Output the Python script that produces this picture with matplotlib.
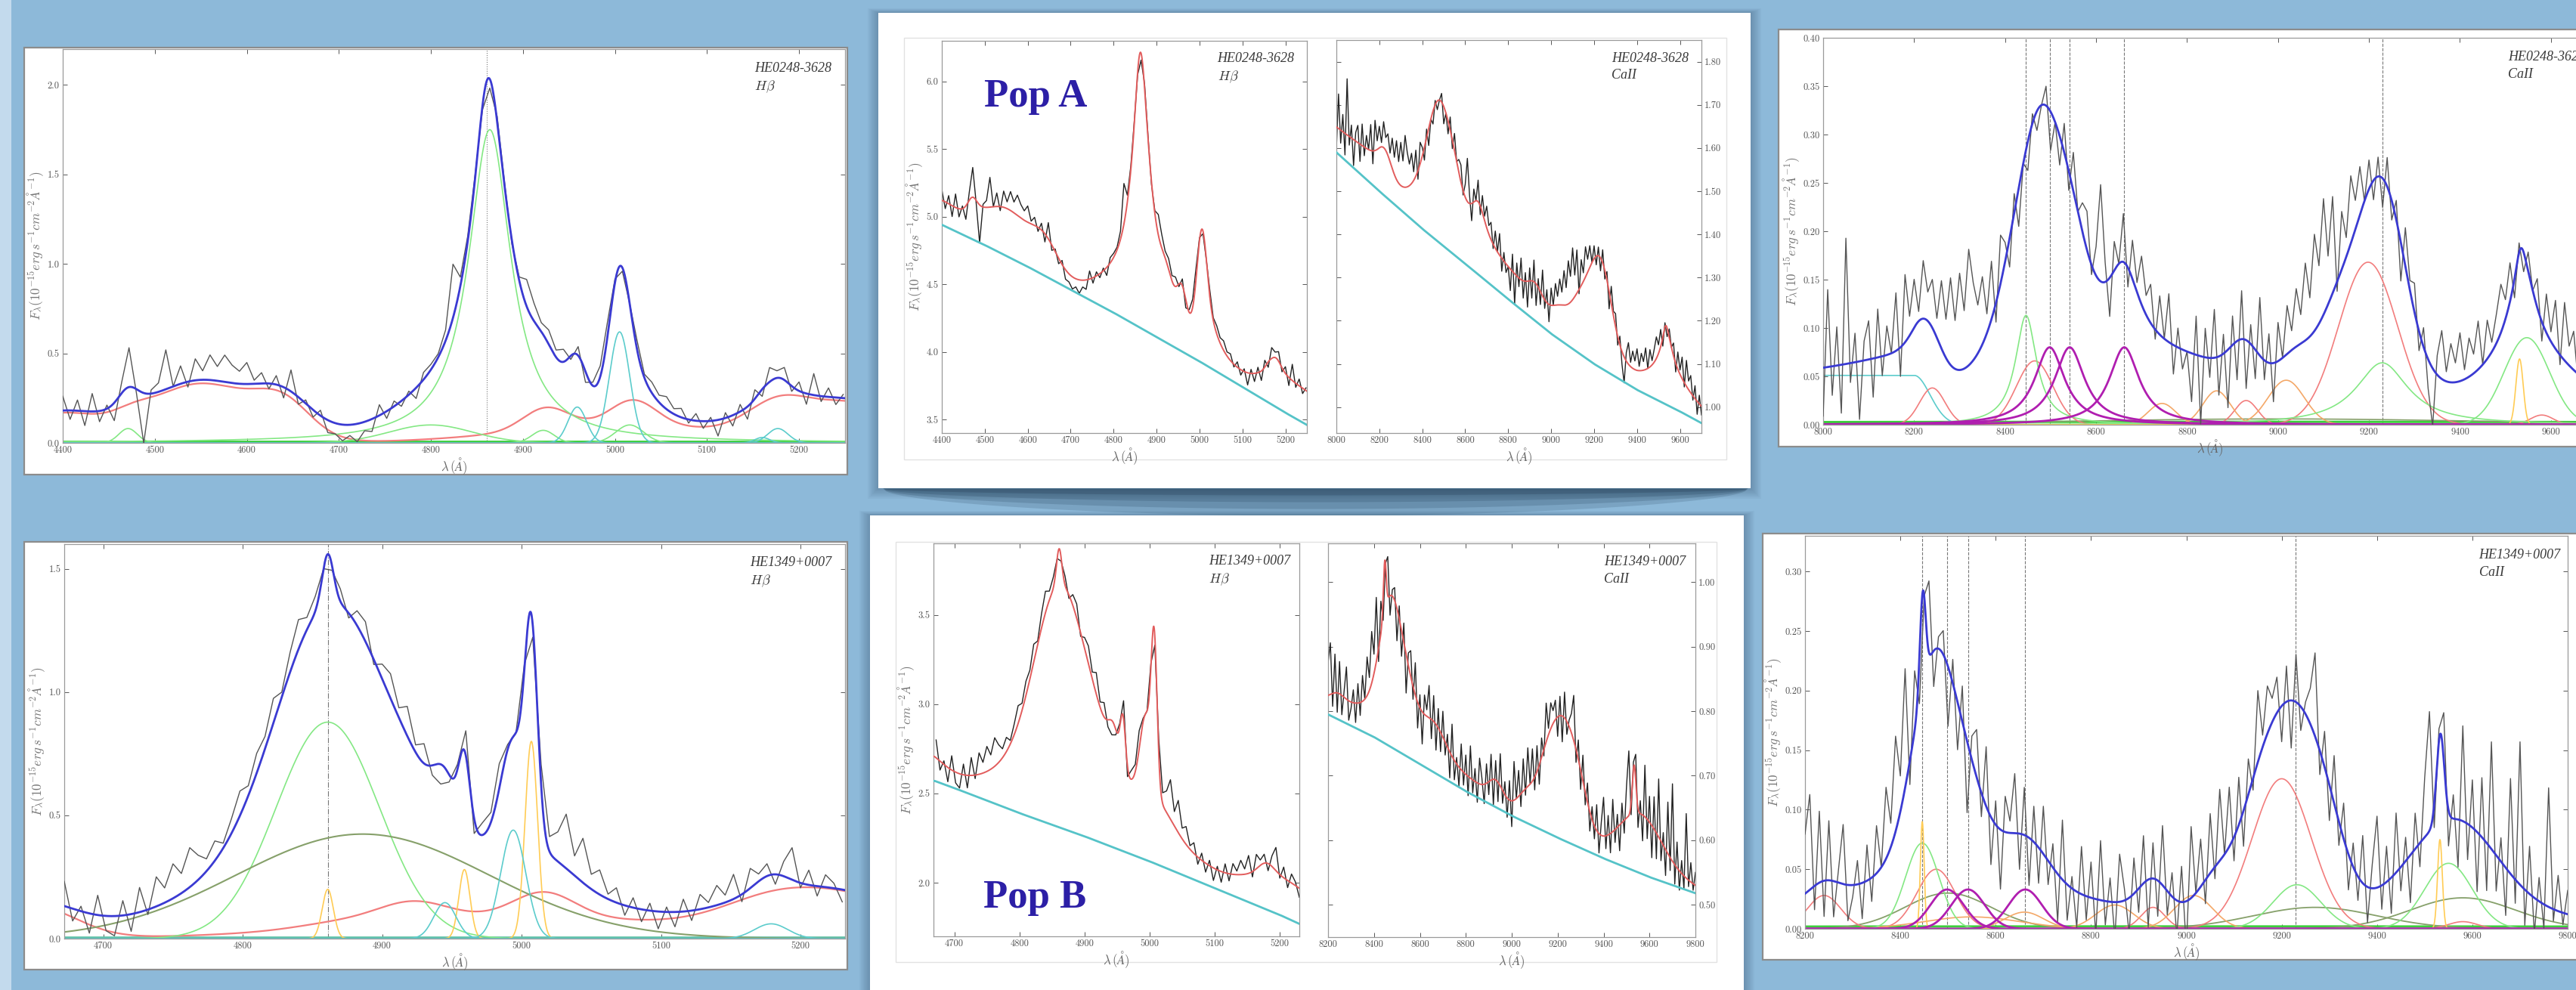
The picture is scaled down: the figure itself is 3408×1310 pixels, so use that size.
import numpy as np
import matplotlib
matplotlib.use('Agg')
import matplotlib.pyplot as plt
from matplotlib.patches import Rectangle
from matplotlib.ticker import FormatStrFormatter

plt.rcParams['font.family'] = 'serif'
plt.rcParams['font.serif'] = ['cmr10', 'DejaVu Serif']
plt.rcParams['mathtext.fontset'] = 'cm'
plt.rcParams['axes.formatter.use_mathtext'] = True
plt.rcParams['axes.unicode_minus'] = False

W, H = 3408, 1310

# line components are (profile, centre [A], height, width [A]);
# 'g' gaussian sigma, 'l' lorentzian half width, 'e' flat shelf blueward of centre

# ---------------- HE0248-3628, Hbeta ----------------
hb_a_xticks = list(range(4400, 5201, 100))
hb_a_yticks = [0.0, 0.5, 1.0, 1.5, 2.0]
hb_a_feii = [('g', 4395, 0.155, 45), ('g', 4475, 0.04, 20), ('g', 4550, 0.33, 60),
             ('g', 4640, 0.17, 30), ('g', 4925, 0.12, 25), ('g', 5010, 0.10, 120),
             ('g', 5020, 0.14, 25), ('g', 5180, 0.20, 35), ('g', 5260, 0.20, 40)]
hb_a_green = [('l', 4864, 1.75, 28), ('g', 4800, 0.10, 45), ('g', 4471, 0.08, 10),
              ('g', 4922, 0.07, 12), ('g', 5016, 0.10, 15)]
hb_a_floor = [('g', 4800, 0.006, 2000)]
hb_a_cyan = [('g', 4959, 0.20, 10), ('g', 5005, 0.62, 11), ('g', 5160, 0.03, 8),
             ('g', 5177, 0.08, 11)]
hb_a_narrow = [('g', 4861, 0.20, 8)]
hb_a_total = hb_a_feii + hb_a_green + hb_a_floor + hb_a_cyan + hb_a_narrow
hb_a_marks = [4861]
hb_a_start, hb_a_step = 4400, 8
hb_a_resid = [0.08, -0.05, 0.06, -0.08, 0.10, -0.06, 0.02, -0.10, 0.06, 0.22,
              -0.02, -0.28, 0.02, 0.05, 0.22, 0.00, 0.10, -0.03, 0.12, 0.05,
              0.14, 0.08, 0.15, 0.10, 0.07, 0.12, 0.02, 0.06, -0.03, 0.05,
              -0.06, 0.12, -0.04, 0.02, -0.04, 0.03, -0.07, -0.06, -0.09, -0.06,
              -0.10, -0.05, -0.07, 0.06, -0.04, 0.03, -0.03, 0.02, -0.06, 0.04,
              0.03, 0.02, 0.06, 0.30, 0.05, 0.03, 0.02, -0.02, -0.05, 0.03,
              0.02, -0.02, 0.02, 0.15, 0.10, 0.05, 0.08, 0.04, 0.07, -0.02,
              0.05, -0.06, 0.02, 0.06, 0.08, 0.02, -0.02, 0.00, 0.05, 0.02,
              0.06, 0.04, 0.07, 0.03, 0.05, -0.02, 0.04, -0.04, 0.02, -0.09,
              0.03, -0.06, 0.04, -0.07, 0.05, -0.04, 0.08, 0.04, 0.07, -0.03,
              0.05, -0.06, 0.12, -0.03, 0.05, -0.04, 0.02]
hb_a_cont_lam = [4400, 4500, 4600, 4700, 4800, 4900, 5000, 5100, 5200, 5250]
hb_a_cont = [4.94, 4.79, 4.63, 4.46, 4.29, 4.11, 3.93, 3.74, 3.55, 3.46]

# ---------------- HE1349+0007, Hbeta ----------------
hb_b_xticks = list(range(4700, 5201, 100))
hb_b_yticks = [0.0, 0.5, 1.0, 1.5]
hb_b_feii = [('g', 4650, 0.13, 30), ('g', 4870, 0.02, 30), ('g', 4922, 0.075, 25),
             ('g', 5000, 0.09, 120), ('g', 5016, 0.10, 22), ('g', 5185, 0.14, 40),
             ('g', 5250, 0.12, 40)]
hb_b_green = [('g', 4861, 0.878, 37)]
hb_b_olive = [('g', 4886, 0.424, 91)]
hb_b_yellow = [('g', 4861, 0.20, 4), ('g', 4959, 0.28, 4), ('g', 5007, 0.80, 4.5)]
hb_b_cyan = [('g', 4945, 0.146, 8), ('g', 4994, 0.44, 9), ('g', 5179, 0.06, 12)]
hb_b_floor = [('g', 4950, 0.004, 2000)]
hb_b_total = hb_b_feii + hb_b_green + hb_b_olive + hb_b_yellow + hb_b_cyan + hb_b_floor
hb_b_marks = [4861]
hb_b_start, hb_b_step = 4672, 6
hb_b_resid = [0.10, -0.05, 0.02, -0.08, 0.08, -0.06, -0.08, 0.06, -0.07, 0.10,
              -0.02, 0.12, 0.06, 0.14, 0.08, 0.16, 0.10, 0.05, 0.08, 0.02,
              0.06, 0.10, 0.04, 0.08, 0.05, 0.10, 0.02, 0.08, 0.12, 0.05,
              0.06, 0.00, -0.02, 0.05, -0.02, 0.06, 0.08, -0.02, 0.06, 0.10,
              0.04, 0.12, 0.03, 0.08, -0.04, -0.08, -0.03, 0.02, 0.10, -0.06,
              0.05, 0.04, 0.10, 0.02, 0.00, 0.02, -0.05, 0.08, 0.06, 0.12,
              0.22, 0.08, 0.18, 0.06, 0.10, 0.02, 0.06, -0.04, 0.04, -0.05,
              0.03, -0.07, 0.02, -0.06, 0.05, -0.04, 0.06, 0.02, 0.08, 0.03,
              0.10, -0.03, 0.08, 0.03, 0.05, -0.04, 0.06, 0.13, -0.02, 0.06,
              -0.04, 0.05, 0.02, -0.05]
hb_b_cont_lam = [4670, 4700, 4800, 4900, 5000, 5100, 5200, 5230]
hb_b_cont = [2.57, 2.53, 2.39, 2.26, 2.12, 1.97, 1.82, 1.77]

# ---------------- HE0248-3628, CaII ----------------
ca_a_xticks = list(range(8000, 9601, 200))
ca_a_yticks = [0.0, 0.05, 0.10, 0.15, 0.20, 0.25, 0.30, 0.35, 0.40]
ca_a_cyan = [('e', 8200, 0.051, 35)]
ca_a_red = [('g', 8240, 0.038, 28), ('g', 8465, 0.066, 40), ('g', 8930, 0.025, 25),
            ('g', 9198, 0.168, 65), ('g', 9580, 0.010, 25)]
ca_a_orange = [('g', 8745, 0.022, 30), ('g', 8865, 0.035, 30), ('g', 9018, 0.046, 40)]
ca_a_green = [('l', 8446, 0.113, 28), ('l', 9229, 0.064, 70), ('g', 9547, 0.09, 50)]
ca_a_magenta = [('l', 8498, 0.08, 40), ('l', 8542, 0.08, 40), ('l', 8662, 0.08, 40)]
ca_a_yellow = [('g', 9531, 0.068, 8)]
ca_a_olive = [('g', 9000, 0.006, 450)]
ca_a_floor = [('g', 8850, 0.003, 2000)]
ca_a_total = [('e', 8200, 0.045, 40), ('g', 8230, 0.035, 30), ('g', 8650, 0.07, 350),
              ('g', 8475, 0.20, 60), ('l', 8475, 0.05, 60), ('g', 8545, 0.05, 40),
              ('l', 8660, 0.09, 45), ('g', 8925, 0.03, 30), ('g', 9040, 0.025, 35),
              ('g', 9120, 0.04, 40), ('g', 9215, 0.15, 60), ('l', 9205, 0.04, 80),
              ('g', 9245, 0.05, 40), ('l', 9537, 0.10, 35), ('g', 9533, 0.015, 8),
              ('g', 9550, 0.035, 80), ('g', 9600, 0.03, 200)]
ca_marks = [8446, 8498, 8542, 8662, 9229]
ca_a_start, ca_a_step = 8000, 10
ca_a_resid = [-0.05, 0.08, -0.03, 0.04, -0.05, 0.13, -0.02, 0.03, -0.06, 0.02,
              0.04, -0.04, 0.05, -0.02, 0.03, 0.00, 0.06, -0.03, 0.07, 0.02,
              0.05, 0.01, 0.06, 0.03, 0.05, 0.02, 0.07, 0.04, 0.09, 0.05,
              0.10, 0.06, 0.12, 0.08, 0.05, 0.07, 0.02, 0.06, -0.02, 0.05,
              0.02, -0.03, 0.02, -0.04, 0.00, -0.03, 0.01, -0.02, 0.00, 0.02,
              -0.04, 0.00, -0.03, 0.03, -0.02, 0.04, 0.00, 0.03, 0.04, -0.01,
              0.03, 0.10, 0.02, -0.04, 0.03, 0.00, 0.05, -0.02, 0.04, 0.01,
              0.05, 0.02, 0.04, -0.01, 0.04, 0.00, 0.05, -0.03, 0.02, -0.02,
              0.00, -0.05, 0.04, -0.07, 0.03, -0.02, 0.05, -0.04, 0.02, -0.06,
              0.03, -0.04, 0.05, -0.05, 0.02, -0.03, 0.06, -0.02, 0.03, -0.04,
              0.04, 0.00, 0.05, 0.02, 0.06, 0.03, 0.08, 0.04, 0.10, 0.06,
              0.12, 0.05, 0.10, -0.01, 0.06, 0.02, 0.07, 0.03, 0.05, 0.00,
              0.03, -0.02, 0.02, -0.03, 0.03, -0.02, 0.02, -0.04, 0.04, 0.01,
              0.03, -0.02, 0.02, -0.03, -0.06, 0.02, 0.05, 0.01, 0.04, 0.02,
              0.05, 0.01, 0.04, 0.02, 0.05, 0.00, 0.04, 0.01, 0.03, 0.05,
              0.02, 0.04, -0.02, 0.01, -0.02, 0.02, 0.00, 0.03, -0.02, 0.04,
              0.01, 0.05, -0.01, 0.06, 0.02, 0.04, -0.01, 0.03, -0.03, 0.02,
              -0.02]
ca_a_cont_lam = [8000, 8200, 8400, 8600, 8800, 9000, 9200, 9400, 9600, 9700]
ca_a_cont = [1.59, 1.50, 1.413, 1.332, 1.25, 1.17, 1.10, 1.04, 0.99, 0.963]
ca_a_rticks = [1.0, 1.1, 1.2, 1.3, 1.4, 1.5, 1.6, 1.7, 1.8]

# ---------------- HE1349+0007, CaII ----------------
ca_b_xticks = list(range(8200, 9801, 200))
ca_b_yticks = [0.0, 0.05, 0.10, 0.15, 0.20, 0.25, 0.30]
ca_b_red = [('g', 8240, 0.028, 35), ('g', 8475, 0.05, 40), ('g', 8930, 0.018, 25),
            ('g', 9200, 0.126, 62), ('g', 9580, 0.006, 30)]
ca_b_orange = [('g', 8550, 0.010, 100), ('g', 8660, 0.014, 40), ('g', 8850, 0.020, 40),
               ('g', 9015, 0.028, 40)]
ca_b_green = [('g', 8446, 0.072, 35), ('g', 9232, 0.037, 50), ('g', 9550, 0.055, 50)]
ca_b_olive = [('g', 8500, 0.030, 90), ('g', 9270, 0.018, 130), ('g', 9580, 0.026, 110)]
ca_b_magenta = [('g', 8498, 0.033, 35), ('g', 8542, 0.033, 35), ('g', 8662, 0.033, 35)]
ca_b_yellow = [('g', 8446, 0.09, 4), ('g', 9532, 0.075, 5)]
ca_b_floor = [('g', 9000, 0.002, 2000)]
ca_b_total = [('g', 8500, 0.035, 300), ('g', 8240, 0.012, 30), ('g', 8447, 0.08, 6),
              ('g', 8470, 0.15, 45), ('l', 8480, 0.04, 80), ('g', 8545, 0.05, 40),
              ('g', 8660, 0.04, 50), ('g', 8930, 0.025, 30), ('g', 9060, 0.025, 35),
              ('g', 9140, 0.03, 40), ('g', 9205, 0.12, 60), ('l', 9210, 0.03, 100),
              ('g', 9260, 0.045, 50), ('g', 9300, 0.03, 40), ('g', 9533, 0.075, 8),
              ('g', 9560, 0.075, 90), ('g', 9600, 0.015, 200)]
ca_b_start, ca_b_step = 8200, 10
ca_b_resid = [0.05, 0.08, -0.02, 0.06, -0.03, 0.05, -0.03, 0.01, 0.05, -0.03,
              -0.01, 0.02, -0.03, 0.03, -0.02, 0.04, 0.00, 0.06, 0.02, 0.08,
              0.03, 0.10, -0.02, 0.05, -0.04, 0.00, 0.06, -0.03, 0.01, 0.02,
              -0.05, 0.02, -0.04, 0.03, -0.06, 0.02, 0.04, -0.02, 0.05, -0.04,
              0.02, -0.05, 0.03, 0.01, 0.05, -0.03, 0.04, -0.04, 0.03, -0.03,
              0.04, -0.02, 0.02, -0.04, 0.05, -0.03, 0.01, -0.03, 0.04, -0.02,
              0.03, -0.03, 0.05, -0.02, 0.02, -0.03, 0.04, 0.01, -0.03, 0.03,
              -0.02, 0.04, -0.04, 0.03, -0.03, 0.05, -0.02, 0.02, -0.03, 0.03,
              -0.04, 0.06, 0.00, 0.04, -0.02, 0.05, -0.01, 0.06, 0.00, 0.05,
              -0.02, 0.04, -0.03, 0.03, -0.01, 0.06, 0.01, 0.04, 0.02, 0.03,
              -0.03, 0.03, -0.04, 0.04, -0.02, 0.01, 0.03, 0.07, -0.02, 0.03,
              -0.03, 0.04, -0.02, 0.03, -0.03, 0.02, -0.02, 0.04, -0.03, 0.02,
              0.06, -0.02, 0.03, -0.03, 0.05, -0.02, 0.02, -0.04, 0.03, -0.02,
              0.05, 0.10, -0.02, 0.01, 0.04, -0.03, 0.02, -0.04, 0.08, -0.03,
              0.04, -0.05, 0.05, -0.04, 0.09, -0.03, 0.02, -0.04, 0.08, -0.02,
              0.12, -0.03, 0.04, -0.03, 0.02, -0.02, 0.10, -0.01, 0.03, -0.01,
              0.02]
ca_b_cont_lam = [8200, 8400, 8600, 8800, 9000, 9200, 9400, 9600, 9800]
ca_b_cont = [0.795, 0.76, 0.718, 0.676, 0.638, 0.604, 0.572, 0.543, 0.518]
ca_b_rticks = [0.5, 0.6, 0.7, 0.8, 0.9, 1.0]

# ---------------- colours ----------------
BG_BLUE = '#8db9d9'
BLUE = '#3a3ad2'
FE_RED = '#f27d7d'
GREEN = '#84e884'
FLOOR_GREEN = '#3ccf3c'
CYAN = '#5ccccc'
YELLOW = '#ffcc55'
OLIVE = '#86a06a'
MAGENTA = '#b01eb0'
ORANGE = '#f4a868'
MODEL_RED = '#e25c5c'
CONT_CYAN = '#55c3c8'
POP = '#2c1fa6'
FLUX_LABEL = r'$F_\lambda(10^{-15}erg\,s^{-1}cm^{-2}\AA^{-1})$'


def profile(lam, comps):
    out = np.zeros_like(lam, dtype=float)
    for kind, c, h, w in comps:
        u = (lam - c) / w
        if kind == 'l':
            out += h / (1 + u ** 2)
        elif kind == 'e':
            out += np.where(u < 0, h, h * np.exp(-0.5 * u ** 2))
        else:
            out += h * np.exp(-0.5 * u ** 2)
    return out


fig = plt.figure(figsize=(W / 100, H / 100), dpi=100)
fig.patch.set_facecolor(BG_BLUE)

# background layer in pixel coordinates
bg = fig.add_axes([0, 0, 1, 1], zorder=-5)
bg.set_xlim(0, W)
bg.set_ylim(H, 0)
bg.axis('off')
bg.add_patch(Rectangle((0, 0), 15, H, color='#c3daed', lw=0))


def card(x0, y0, x1, y1, edge=None, shadow=False):
    if shadow:
        for k in range(14, 0, -2):
            bg.add_patch(Rectangle((x0 - k, y0 - k * 0.4), x1 - x0 + 2 * k, y1 - y0 + k * 1.4,
                                   color='#1d3850', alpha=0.045, lw=0))
    bg.add_patch(Rectangle((x0, y0), x1 - x0, y1 - y0, facecolor='white',
                           edgecolor=edge if edge else 'white', lw=1.6 if edge else 0))


card(32, 63, 1121, 628, edge='#8c8c8c')
card(32, 717, 1121, 1283, edge='#8c8c8c')
card(2353, 39, 3460, 591, edge='#8c8c8c')
card(2332, 706, 3460, 1270, edge='#8c8c8c')

# curled shadow under the upper card
xs = np.linspace(1168, 2312, 300)
depth = 36 * np.sin(np.pi * (xs - 1168) / 1144) ** 0.5
for f, a in [(1.0, 0.18), (0.75, 0.2), (0.5, 0.22), (0.25, 0.25)]:
    bg.fill_between(xs, 646, 646 + depth * f, color='#24425b', alpha=a, lw=0)
card(1162, 17, 2316, 646, shadow=True)
card(1151, 682, 2307, 1340, shadow=True)
bg.add_patch(Rectangle((1196, 50), 1088, 558, fill=False, ec='#e2e2e2', lw=1))
bg.add_patch(Rectangle((1185, 717), 1086, 556, fill=False, ec='#e2e2e2', lw=1))


def add_px_axes(box):
    x0, y0, x1, y1 = box
    return fig.add_axes([x0 / W, 1 - y1 / H, (x1 - x0) / W, (y1 - y0) / H])


def dress(ax, xlim, ylim, xticks, yticks, yfmt, ylabel=True, right=False):
    ax.set_xlim(xlim)
    ax.set_ylim(ylim)
    ax.set_xticks(xticks)
    ax.set_yticks(yticks)
    ax.xaxis.set_major_formatter(FormatStrFormatter('%d'))
    ax.yaxis.set_major_formatter(FormatStrFormatter(yfmt))
    ax.tick_params(direction='in', top=True, right=True, length=4, width=0.7,
                   colors='#555555', labelsize=9, pad=3)
    if right:
        ax.tick_params(labelleft=False, labelright=True)
    for sp in ax.spines.values():
        sp.set_color('#9a9a9a')
        sp.set_linewidth(0.9)
    ax.set_xlabel(r'$\lambda\,(\AA)$', fontsize=12, color='#666666', labelpad=1)
    if ylabel:
        ax.set_ylabel(FLUX_LABEL, fontsize=12.5, color='#777777', labelpad=2)


def tag(ax, box, name, line, xf, yf):
    dy = 22.5 / (box[3] - box[1])
    ax.text(xf, yf, name, transform=ax.transAxes, ha='left', va='top', fontsize=13,
            family='Liberation Serif', style='italic', color='#3a3a3a')
    ax.text(xf, yf - dy, line, transform=ax.transAxes, ha='left', va='top', fontsize=13,
            family='Liberation Serif', style='italic', color='#3a3a3a')


def fit_panel(box, xlim, ylim, xticks, yticks, yfmt, start, step, resid, groups, total,
              marks, mark_ls, name, line, txt):
    ax = add_px_axes(box)
    lam = np.linspace(xlim[0], xlim[1], 2500)
    for comps, color, lw, summed in groups:
        if summed:
            # one template curve, e.g. the FeII blend
            ax.plot(lam, profile(lam, comps), color=color, lw=lw, zorder=2)
        else:
            for comp in comps:
                ax.plot(lam, profile(lam, [comp]), color=color, lw=lw, zorder=2)
    for m in marks:
        ax.axvline(m, color='#777777', ls=mark_ls, lw=0.8, zorder=1)
    lam_obs = start + step * np.arange(len(resid))
    ax.plot(lam_obs, profile(lam_obs, total) + np.array(resid), color='#555555',
            lw=1.0, zorder=3)
    ax.plot(lam, profile(lam, total), color=BLUE, lw=2.0, zorder=4)
    dress(ax, xlim, ylim, xticks, yticks, yfmt)
    tag(ax, box, name, line, *txt)
    return ax


def cont_panel(box, xlim, ylim, xticks, yticks, yfmt, start, step, resid, total,
               cont_lam, cont_val, name, line, txt, right=False):
    ax = add_px_axes(box)
    lam = np.linspace(xlim[0], xlim[1], 2500)
    cont = np.interp(lam, cont_lam, cont_val)
    lam_obs = start + step * np.arange(len(resid))
    obs = np.interp(lam_obs, cont_lam, cont_val) + profile(lam_obs, total) + np.array(resid)
    ax.plot(lam_obs, obs, color='#222222', lw=1.0, zorder=2)
    ax.plot(lam, cont + profile(lam, total), color=MODEL_RED, lw=1.4, zorder=3)
    ax.plot(lam, cont, color=CONT_CYAN, lw=2.0, zorder=3)
    dress(ax, xlim, ylim, xticks, yticks, yfmt, ylabel=not right, right=right)
    tag(ax, box, name, line, *txt)
    return ax


HB = r'$H\beta$'

# left column: H beta decompositions
box = (83, 65, 1118, 586)
fit_panel(box, (4400, 5250), (0, 2.2), hb_a_xticks, hb_a_yticks, '%.1f',
          hb_a_start, hb_a_step, hb_a_resid,
          [(hb_a_floor, FLOOR_GREEN, 2.2, False), (hb_a_feii, FE_RED, 1.6, True),
           (hb_a_green, GREEN, 1.2, False), (hb_a_cyan, CYAN, 1.2, False)],
          hb_a_total, hb_a_marks, ':', 'HE0248-3628', HB, (0.884, 0.967))

box = (85, 720, 1118, 1242)
fit_panel(box, (4672, 5232), (0, 1.6), hb_b_xticks, hb_b_yticks, '%.1f',
          hb_b_start, hb_b_step, hb_b_resid,
          [(hb_b_floor, '#5fbfa5', 2.2, False), (hb_b_feii, FE_RED, 1.6, True),
           (hb_b_green, GREEN, 1.2, False), (hb_b_olive, OLIVE, 1.5, False),
           (hb_b_yellow, YELLOW, 1.2, False), (hb_b_cyan, CYAN, 1.2, False)],
          hb_b_total, hb_b_marks, '-.', 'HE1349+0007', HB, (0.878, 0.969))

# right column: CaII decompositions
box = (2412, 50, 3435, 562)
fit_panel(box, (8000, 9700), (0, 0.40), ca_a_xticks, ca_a_yticks, '%.2f',
          ca_a_start, ca_a_step, ca_a_resid,
          [(ca_a_floor, FLOOR_GREEN, 2.2, False), (ca_a_olive, OLIVE, 1.2, False),
           (ca_a_cyan, CYAN, 1.2, False), (ca_a_red, FE_RED, 1.2, False),
           (ca_a_orange, ORANGE, 1.2, False), (ca_a_green, GREEN, 1.2, False),
           (ca_a_yellow, YELLOW, 1.2, False), (ca_a_magenta, MAGENTA, 2.0, False)],
          ca_a_total, ca_marks, '--', 'HE0248-3628', 'CaII', (0.8855, 0.966))

box = (2388, 709, 3397, 1229)
fit_panel(box, (8200, 9800), (0, 0.33), ca_b_xticks, ca_b_yticks, '%.2f',
          ca_b_start, ca_b_step, ca_b_resid,
          [(ca_b_floor, FLOOR_GREEN, 2.2, False), (ca_b_olive, OLIVE, 1.3, False),
           (ca_b_red, FE_RED, 1.2, False), (ca_b_orange, ORANGE, 1.2, False),
           (ca_b_green, GREEN, 1.2, False), (ca_b_yellow, YELLOW, 1.2, False),
           (ca_b_magenta, MAGENTA, 2.0, False)],
          ca_b_total, ca_marks, '--', 'HE1349+0007', 'CaII', (0.8836, 0.967))

# middle cards: observed spectra with continuum
box = (1246, 54, 1729, 573)
cont_panel(box, (4400, 5250), (3.4, 6.3), hb_a_xticks, [3.5, 4.0, 4.5, 5.0, 5.5, 6.0], '%.1f',
           hb_a_start, hb_a_step, hb_a_resid, hb_a_total, hb_a_cont_lam, hb_a_cont,
           'HE0248-3628', HB, (0.755, 0.971))

box = (1768, 53, 2251, 573)
cont_panel(box, (8000, 9700), (0.94, 1.85), ca_a_xticks, ca_a_rticks, '%.2f',
           ca_a_start, ca_a_step, ca_a_resid, ca_a_total, ca_a_cont_lam, ca_a_cont,
           'HE0248-3628', 'CaII', (0.754, 0.970), right=True)

box = (1235, 719, 1719, 1239)
cont_panel(box, (4668, 5230), (1.7, 3.9), hb_b_xticks, [2.0, 2.5, 3.0, 3.5], '%.1f',
           hb_b_start, hb_b_step, hb_b_resid, hb_b_total, hb_b_cont_lam, hb_b_cont,
           'HE1349+0007', HB, (0.752, 0.971))

box = (1757, 719, 2243, 1240)
cont_panel(box, (8200, 9800), (0.45, 1.06), ca_b_xticks, ca_b_rticks, '%.2f',
           ca_b_start, ca_b_step, ca_b_resid, ca_b_total, ca_b_cont_lam, ca_b_cont,
           'HE1349+0007', 'CaII', (0.751, 0.969), right=True)

fig.text(1302 / W, 1 - 141 / H, 'Pop A', ha='left', va='baseline', fontsize=38,
         family='Liberation Serif', weight='bold', color=POP)
fig.text(1301 / W, 1 - 1201 / H, 'Pop B', ha='left', va='baseline', fontsize=38,
         family='Liberation Serif', weight='bold', color=POP)

fig.savefig('out.png', dpi=100, facecolor=fig.get_facecolor())
plt.close(fig)
